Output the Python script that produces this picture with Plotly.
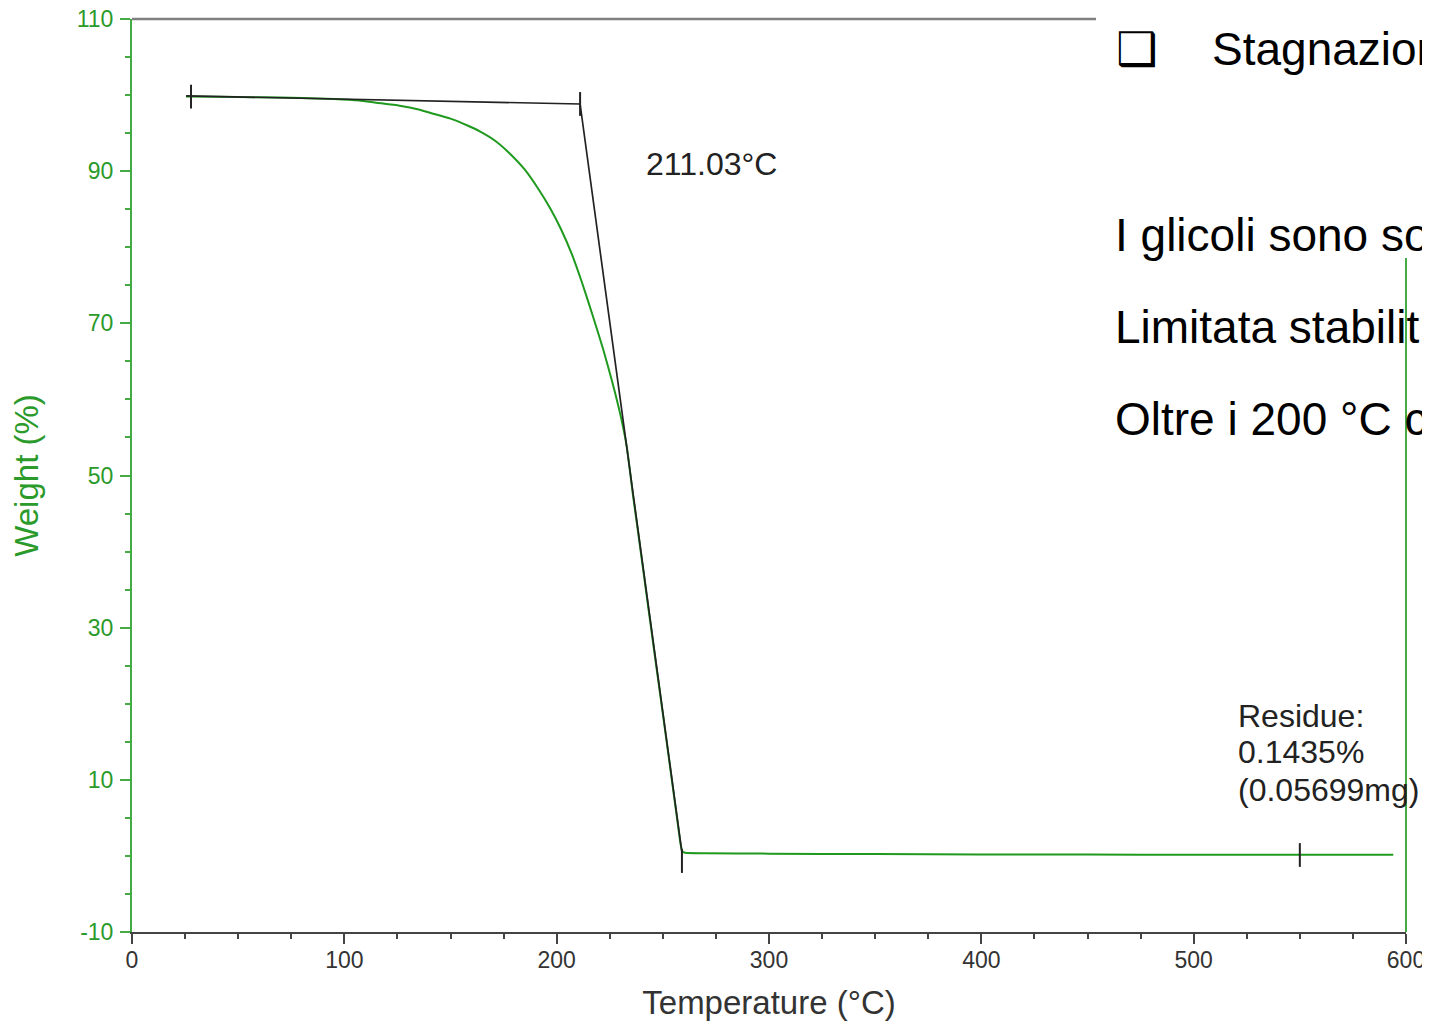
import plotly.graph_objects as go

# ---- data ----
temperature = [25.4, 40, 60, 80, 95, 107, 115, 126, 135, 140, 150, 158, 164, 171, 178, 185,
               192, 197, 202, 207, 212, 217, 222, 226, 230, 233, 236, 239, 242, 246, 250,
               254, 257, 258.4, 259.2, 260.5, 270, 300, 350, 400, 450, 500, 550, 594]
weight = [99.8, 99.78, 99.72, 99.62, 99.5, 99.3, 99.0, 98.6, 98.1, 97.7, 96.9, 96.0, 95.2, 94.0, 92.3, 90.2,
          87.4, 85.1, 82.4, 79.2, 75.3, 71.0, 66.5, 62.5, 58.0, 53.8, 47.3, 41.2, 35.0, 26.8, 18.7,
          10.5, 4.3, 1.5, 0.6, 0.42, 0.36, 0.3, 0.24, 0.2, 0.17, 0.15, 0.14, 0.14]

tangent_T = [25.5, 211.03, 259.0]
tangent_W = [99.9, 98.83, 0.42]

marker_T = [27.8, 211.03, 259.0, 550.0]
marker_W = [99.8, 98.83, -0.67, 0.12]

x_ticks = [0, 100, 200, 300, 400, 500, 600]
y_ticks = [-10, 10, 30, 50, 70, 90, 110]
y_tick_text = ["-10", "10", "30", "50", "70", "90", "110"]

onset_label = "211.03°C"
residue_lines = ["Residue:", "0.1435%", "(0.05699mg)"]
residue_W = [18.4, 13.66, 8.66]

slide_lines = ["I glicoli sono so", "Limitata stabilit", "Oltre i 200 °C c"]

FONT = "Liberation Sans, Arial, sans-serif"
GREEN_CURVE = "#1f9a1f"
GREEN_AXIS = "#44aa44"
GREEN_TEXT = "#2a9a2a"
DARK = "#333333"

# the page body has an 8px default margin, so the figure starts 8px in from the window corner
OFF = 8
W_FIG, H_FIG = 1430 - OFF, 1021 - OFF
L, R, T = 132 - OFF, 24, 19 - OFF
PW = 1274
PH = 913
B = H_FIG - T - PH


def px_to_paper(px, py):
    """screen pixel -> paper coordinates"""
    return (px - OFF - L) / PW, (T + PH - (py - OFF)) / PH


fig = go.Figure()

fig.add_trace(go.Scatter(x=temperature, y=weight, mode="lines",
                         line=dict(color=GREEN_CURVE, width=2, shape="spline", smoothing=0.5),
                         showlegend=False, hoverinfo="skip"))
fig.add_trace(go.Scatter(x=tangent_T, y=tangent_W, mode="lines",
                         line=dict(color="#222222", width=1.7), showlegend=False,
                         hoverinfo="skip"))
fig.add_trace(go.Scatter(x=marker_T, y=marker_W, mode="markers",
                         marker=dict(symbol="line-ns", size=17,
                                     line=dict(color="#222222", width=2)),
                         showlegend=False, hoverinfo="skip"))

fig.add_annotation(x=241.0, y=91.0, xref="x", yref="y", text=onset_label,
                   showarrow=False, xanchor="left", yanchor="middle",
                   font=dict(family=FONT, size=32, color="#222222"))
for txt, wv in zip(residue_lines, residue_W):
    fig.add_annotation(x=520.0, y=wv, xref="x", yref="y", text=txt,
                       showarrow=False, xanchor="left", yanchor="middle", align="left",
                       font=dict(family=FONT, size=32, color="#222222"))

# frame pieces (top gray line partly hidden by slide text box, right green line)
x_top_end, _ = px_to_paper(1096, 0)
_, y_right_top = px_to_paper(0, 258)
fig.add_shape(type="line", xref="paper", yref="paper", x0=0, x1=x_top_end, y0=1, y1=1,
              line=dict(color="#808080", width=2.5))
fig.add_shape(type="line", xref="paper", yref="paper", x0=1, x1=1, y0=0, y1=y_right_top,
              line=dict(color=GREEN_AXIS, width=2))

# slide text overlapping the chart
bx, by = px_to_paper(1114, 49)
fig.add_annotation(x=bx, y=by, xref="paper", yref="paper", text="❑", showarrow=False,
                   xanchor="left", yanchor="middle",
                   font=dict(family="DejaVu Sans", size=46, color="black"))
sx, sy = px_to_paper(1210, 49)
fig.add_annotation(x=sx, y=sy, xref="paper", yref="paper", text="Stagnazion", showarrow=False,
                   xanchor="left", yanchor="middle",
                   font=dict(family=FONT, size=46, color="black"))
for line_text, py in zip(slide_lines, [235, 327, 419]):
    lx, ly = px_to_paper(1113, py)
    fig.add_annotation(x=lx, y=ly, xref="paper", yref="paper", text=line_text,
                       showarrow=False, xanchor="left", yanchor="middle",
                       font=dict(family=FONT, size=46, color="black"))

fig.update_layout(
    width=W_FIG, height=H_FIG,
    margin=dict(l=L, r=R, t=T, b=B, pad=0, autoexpand=False),
    paper_bgcolor="white", plot_bgcolor="white",
    font=dict(family=FONT),
    xaxis=dict(range=[0, 600], tickvals=x_ticks, showgrid=False, zeroline=False,
               automargin=False, ticklabeloverflow="allow",
               showline=True, linecolor="#444444", linewidth=2,
               ticks="outside", ticklen=10, tickwidth=1.5, tickcolor="#444444",
               ticklabelstandoff=-4,
               minor=dict(dtick=25, ticks="outside", ticklen=5, tickwidth=1.5, tickcolor="#444444"),
               tickfont=dict(family=FONT, size=23, color=DARK),
               title=dict(text="Temperature (°C)", standoff=19,
                          font=dict(family=FONT, size=33, color=DARK))),
    yaxis=dict(range=[-10, 110], tickvals=y_ticks, ticktext=y_tick_text,
               showgrid=False, zeroline=False, automargin=False, ticklabeloverflow="allow",
               showline=True, linecolor=GREEN_AXIS, linewidth=2,
               ticks="outside", ticklen=10, tickwidth=1.5, tickcolor=GREEN_AXIS,
               ticklabelstandoff=2,
               minor=dict(dtick=5, ticks="outside", ticklen=5, tickwidth=1.5, tickcolor=GREEN_AXIS),
               tickfont=dict(family=FONT, size=23, color=GREEN_TEXT),
               title=dict(text="Weight (%)", standoff=31,
                          font=dict(family=FONT, size=33, color=GREEN_TEXT))),
)

fig.write_html("out.html")
